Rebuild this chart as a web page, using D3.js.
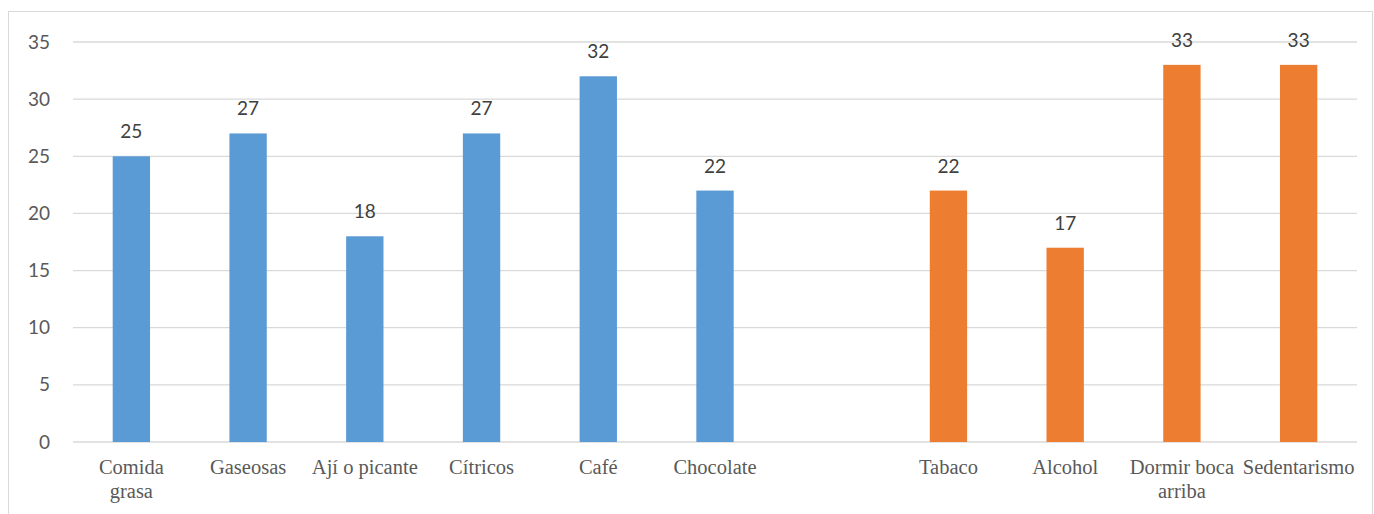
<!DOCTYPE html>
<html>
<head>
<meta charset="utf-8">
<script src="https://cdn.jsdelivr.net/npm/d3@7"></script>
<style>
  html, body { margin: 0; padding: 0; background: #fff; }
  svg { display: block; }
</style>
</head>
<body>
<svg id="chart" width="1374" height="514"></svg>
<script>
// Category slots (an empty slot separates the two groups)
const categories = ["Comida grasa", "Gaseosas", "Ají o picante", "Cítricos", "Café", "Chocolate", "", "Tabaco", "Alcohol", "Dormir boca arriba", "Sedentarismo"];
const categoryLines = [["Comida", "grasa"], ["Gaseosas"], ["Ají o picante"], ["Cítricos"], ["Café"], ["Chocolate"], [""], ["Tabaco"], ["Alcohol"], ["Dormir boca", "arriba"], ["Sedentarismo"]];
const dietValues = [25, 27, 18, 27, 32, 22, null, null, null, null, null];
const habitValues = [null, null, null, null, null, null, null, 22, 17, 33, 33];
const yTicks = [0, 5, 10, 15, 20, 25, 30, 35];

const svg = d3.select("#chart");
const W = 1374, H = 514;
const margin = { left: 73, right: 17, top: 42, bottom: 72 };
const plotW = W - margin.left - margin.right;
const plotH = H - margin.top - margin.bottom;

// outer chart frame
svg.append("rect")
  .attr("x", 8.5).attr("y", 11.5)
  .attr("width", 1364).attr("height", 520)
  .attr("fill", "none").attr("stroke", "#d9d9d9").attr("stroke-width", 1);

const g = svg.append("g").attr("transform", `translate(${margin.left},${margin.top})`);

const x = d3.scaleBand().domain(d3.range(categories.length)).range([0, plotW]).paddingInner(0.68).paddingOuter(0.34);
const y = d3.scaleLinear().domain([0, 35]).range([plotH, 0]);

// gridlines
g.selectAll("line.grid").data(yTicks).join("line")
  .attr("class", "grid")
  .attr("x1", 0).attr("x2", plotW)
  .attr("y1", d => y(d)).attr("y2", d => y(d))
  .attr("stroke", "#d9d9d9").attr("stroke-width", 1.3);

// y axis labels
const yAxis = d3.axisLeft(y).tickValues(yTicks).tickSize(0).tickPadding(23);
const ya = g.append("g").call(yAxis);
ya.select(".domain").remove();
ya.selectAll("text")
  .attr("font-family", "Lato, 'Open Sans', sans-serif")
  .attr("font-size", 19).attr("fill", "#595959");

function drawSeries(values, color) {
  const data = values.map((v, i) => ({ i, v })).filter(d => d.v !== null);
  g.selectAll(null).data(data).join("rect")
    .attr("x", d => x(d.i)).attr("width", x.bandwidth())
    .attr("y", d => y(d.v)).attr("height", d => plotH - y(d.v))
    .attr("fill", color);
  g.selectAll(null).data(data).join("text")
    .attr("x", d => x(d.i) + x.bandwidth() / 2)
    .attr("y", d => y(d.v) - 18)
    .attr("text-anchor", "middle")
    .attr("font-family", "Lato, 'Open Sans', sans-serif")
    .attr("font-size", 19).attr("fill", "#404040")
    .text(d => d.v);
}
drawSeries(dietValues, "#5b9bd5");
drawSeries(habitValues, "#ed7d31");

// category labels
const xl = g.append("g").attr("transform", `translate(0,${plotH})`);
categoryLines.forEach((lines, i) => {
  const t = xl.append("text")
    .attr("x", x(i) + x.bandwidth() / 2)
    .attr("y", 32)
    .attr("text-anchor", "middle")
    .attr("font-family", "'Liberation Serif', 'Times New Roman', serif")
    .attr("font-size", 20.5).attr("fill", "#595959");
  lines.forEach((ln, k) => {
    t.append("tspan").attr("x", x(i) + x.bandwidth() / 2).attr("dy", k === 0 ? 0 : 24).text(ln);
  });
});
</script>
</body>
</html>
